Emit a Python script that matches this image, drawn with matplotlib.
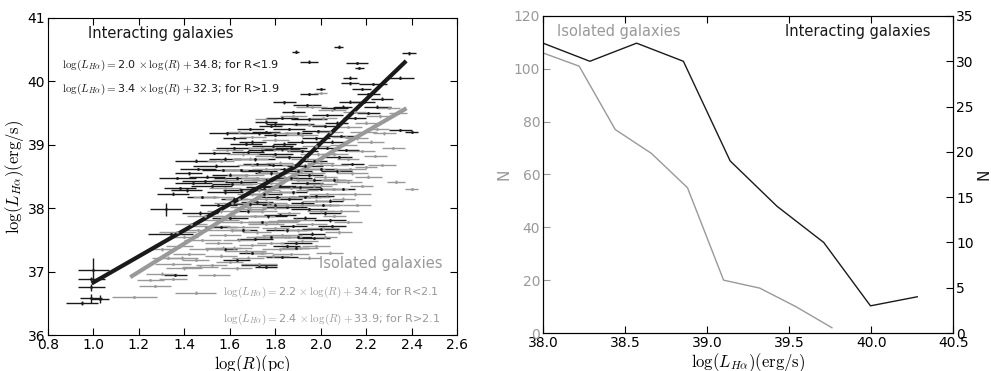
import matplotlib
matplotlib.use("Agg")
import matplotlib.pyplot as plt
import numpy as np

plt.rcParams["mathtext.fontset"] = "cm"
plt.rcParams["font.size"] = 10

GREY = "#999999"
DARK = "#1a1a1a"

# ---- left panel: log(R) vs log(L_Halpha), points as (x, y, xerr, yerr) ----
inter_pts = [
    (1.89, 40.47, .015, .02), (2.08, 40.55, .02, .02), (1.95, 40.31, .04, .02), (2.39, 40.44, .03, .02),
    (2.16, 40.29, .05, .02), (2.17, 40.21, .02, .02), (2.13, 40.06, .03, .02), (2.35, 40.06, .06, .02),
    (2.00, 39.88, .02, .02), (1.95, 39.80, .04, .02), (2.13, 39.97, .04, .02), (2.23, 39.96, .06, .02),
    (2.18, 39.88, .04, .02), (2.21, 39.80, .05, .02), (1.84, 39.67, .05, .02), (2.13, 39.68, .05, .02),
    (2.06, 39.58, .06, .02), (2.03, 39.47, .07, .02), (2.21, 39.50, .05, .02), (1.88, 39.52, .05, .02),
    (2.10, 39.60, .04, .02), (2.27, 39.73, .05, .02),
    (1.76, 39.36, .05, .02), (1.80, 39.33, .04, .02), (1.78, 39.30, .05, .02), (1.73, 39.18, .07, .02),
    (1.76, 39.20, .06, .02), (1.80, 39.16, .05, .02), (1.90, 39.18, .06, .02), (2.09, 39.14, .06, .02),
    (2.35, 39.23, .05, .02), (2.40, 39.20, .03, .02), (1.95, 39.40, .08, .02), (2.02, 39.30, .06, .02),
    (1.86, 39.25, .07, .02), (1.98, 39.10, .06, .02), (1.70, 39.05, .06, .02), (1.84, 39.02, .05, .02),
    (2.15, 39.42, .05, .02), (1.92, 39.05, .07, .02), (1.62, 39.10, .05, .02),
    (1.54, 38.67, .10, .02), (1.50, 38.50, .08, .02), (1.62, 38.95, .08, .02), (1.68, 38.88, .07, .02),
    (1.74, 38.92, .06, .02), (1.80, 38.85, .08, .02), (1.86, 38.80, .06, .02), (1.92, 38.90, .07, .02),
    (1.97, 38.75, .06, .02), (2.03, 38.95, .05, .02), (1.58, 38.78, .07, .02), (1.65, 38.60, .09, .02),
    (1.72, 38.70, .06, .02), (1.78, 38.55, .07, .02), (1.84, 38.62, .05, .02), (1.90, 38.58, .06, .02),
    (2.00, 38.62, .07, .02), (2.08, 38.80, .06, .02), (1.60, 38.53, .08, .02), (1.95, 38.52, .06, .02),
    (1.46, 38.62, .08, .02), (1.42, 38.55, .06, .02), (2.14, 38.70, .05, .02),
    (1.52, 38.35, .09, .02), (1.44, 38.40, .08, .02), (1.38, 38.32, .07, .02), (1.58, 38.25, .08, .02),
    (1.65, 38.42, .07, .02), (1.70, 38.30, .06, .02), (1.76, 38.45, .06, .02), (1.82, 38.35, .07, .02),
    (1.88, 38.25, .06, .02), (1.94, 38.40, .07, .02), (2.00, 38.30, .06, .02), (2.06, 38.45, .05, .02),
    (1.62, 38.15, .06, .02), (1.72, 38.10, .07, .02), (1.80, 38.05, .06, .02), (1.86, 38.15, .06, .02),
    (1.92, 38.08, .05, .02), (1.98, 38.20, .08, .02), (2.04, 38.12, .06, .02), (1.48, 38.18, .07, .02),
    (1.55, 38.05, .08, .02), (2.10, 38.30, .05, .02), (1.35, 38.23, .07, .02),
    (1.32, 37.98, .07, .10), (1.47, 37.92, .08, .03), (1.34, 37.60, .10, .03), (2.04, 37.81, .07, .02),
    (2.00, 37.67, .08, .02), (1.96, 37.60, .06, .02), (1.60, 37.85, .08, .02), (1.68, 37.95, .07, .02),
    (1.74, 37.78, .06, .02), (1.82, 37.90, .07, .02), (1.88, 37.72, .06, .02), (1.93, 37.85, .05, .02),
    (1.66, 37.65, .06, .02), (1.78, 37.55, .07, .02), (1.56, 37.70, .07, .02), (1.90, 37.55, .06, .02),
    (1.89, 37.45, .07, .02), (1.85, 37.40, .06, .02), (1.89, 37.38, .06, .02), (1.83, 37.23, .07, .02),
    (1.73, 37.10, .08, .02), (1.63, 37.18, .06, .02), (1.36, 36.95, .05, .02), (1.76, 37.08, .05, .02),
    (1.70, 37.30, .06, .02), (1.58, 37.35, .05, .02),
    (1.71, 38.77, .09, .02), (1.83, 38.93, .08, .02), (1.67, 39.02, .07, .02), (1.79, 38.98, .09, .02),
    (1.93, 38.67, .08, .02), (1.87, 38.47, .09, .02), (1.75, 38.33, .08, .02), (1.63, 38.47, .10, .02),
    (1.57, 38.60, .09, .02), (1.49, 38.43, .10, .02), (1.81, 38.17, .08, .02), (1.69, 38.06, .09, .02),
    (1.95, 37.98, .08, .02), (2.02, 37.92, .07, .02), (1.91, 38.33, .09, .02), (1.97, 38.45, .08, .02),
    (2.07, 38.58, .07, .02), (2.11, 38.92, .06, .02), (1.99, 39.21, .07, .02), (1.89, 39.33, .08, .02),
    (2.05, 39.05, .07, .02), (1.77, 37.87, .08, .02), (1.85, 37.65, .09, .02), (1.71, 37.52, .08, .02),
    (1.97, 37.53, .07, .02), (2.05, 37.72, .06, .02), (1.65, 38.28, .08, .02), (1.53, 38.87, .07, .02),
    (1.45, 38.75, .09, .02), (1.59, 39.18, .08, .02), (1.69, 39.25, .06, .02), (1.83, 39.43, .07, .02),
    (1.94, 39.63, .06, .02), (2.07, 39.35, .05, .02), (2.25, 39.60, .06, .02), (2.19, 39.68, .05, .02),
    (1.79, 38.68, .09, .02), (1.73, 38.58, .08, .02), (1.87, 38.95, .07, .02), (1.61, 38.38, .09, .02),
    (1.41, 38.28, .07, .02), (1.37, 38.48, .08, .02), (1.93, 38.18, .07, .02), (1.85, 38.02, .09, .02),
    (2.01, 38.05, .07, .02), (1.75, 38.22, .08, .02),
    (1.00, 37.03, .07, .18), (0.99, 36.89, .06, .03), (0.99, 36.75, .06, .06), (0.95, 36.51, .07, .03),
    (1.03, 36.57, .04, .06), (0.99, 36.58, .05, .07),
]

isol_pts = [
    (1.18, 36.60, .10, .02), (1.45, 36.67, .09, .02), (1.27, 36.77, .07, .02), (1.25, 36.87, .06, .02),
    (1.30, 36.97, .07, .02), (1.40, 37.05, .08, .02), (1.35, 37.12, .08, .02), (1.45, 37.18, .06, .02),
    (1.52, 37.10, .07, .02), (1.42, 37.28, .07, .02), (1.50, 37.35, .08, .02), (1.38, 37.40, .06, .02),
    (1.56, 37.25, .07, .02), (1.62, 37.38, .08, .02), (1.60, 37.15, .06, .02), (1.68, 37.22, .07, .02),
    (1.48, 37.50, .08, .02), (1.55, 37.45, .06, .02), (1.58, 37.58, .07, .02), (1.46, 37.65, .07, .02),
    (1.52, 37.72, .08, .02), (1.40, 37.55, .06, .02), (1.30, 37.35, .05, .02), (2.04, 37.30, .06, .02),
    (1.95, 37.22, .05, .02),
    (1.64, 37.50, .07, .02), (1.70, 37.42, .06, .02), (1.74, 37.30, .05, .02), (1.78, 37.45, .06, .02),
    (1.82, 37.35, .08, .02), (1.86, 37.55, .06, .02), (1.92, 37.48, .07, .02), (1.98, 37.40, .06, .02),
    (2.02, 37.55, .05, .02), (2.08, 37.62, .06, .02), (1.66, 37.70, .07, .02), (1.72, 37.62, .06, .02),
    (1.76, 37.75, .08, .02), (1.80, 37.68, .06, .02), (1.84, 37.80, .07, .02), (1.90, 37.65, .06, .02),
    (1.96, 37.75, .07, .02), (2.06, 37.88, .05, .02), (2.12, 37.78, .06, .02), (2.00, 37.95, .06, .02),
    (1.62, 37.88, .07, .02), (1.56, 37.95, .06, .02), (1.68, 38.02, .08, .02), (1.74, 37.95, .07, .02),
    (1.80, 38.00, .06, .02), (1.86, 37.92, .05, .02), (1.92, 38.05, .07, .02), (1.98, 38.12, .06, .02),
    (2.04, 38.05, .06, .02), (2.10, 38.15, .05, .02), (2.16, 38.05, .06, .02), (1.64, 38.15, .06, .02),
    (1.70, 38.22, .07, .02), (1.76, 38.15, .06, .02), (1.82, 38.25, .07, .02), (1.88, 38.18, .06, .02),
    (1.94, 38.28, .05, .02), (2.00, 38.38, .07, .02), (2.06, 38.30, .06, .02), (2.12, 38.42, .06, .02),
    (2.18, 38.35, .05, .02), (2.33, 38.42, .04, .02), (1.58, 38.32, .07, .02), (1.66, 38.38, .06, .02),
    (1.72, 38.48, .07, .02), (1.78, 38.40, .06, .02), (1.84, 38.50, .06, .02), (1.90, 38.45, .07, .02),
    (1.96, 38.55, .06, .02), (2.02, 38.50, .05, .02), (2.08, 38.60, .06, .02), (2.14, 38.55, .07, .02),
    (2.20, 38.65, .05, .02), (1.62, 38.60, .06, .02), (1.70, 38.68, .07, .02), (1.76, 38.62, .06, .02),
    (1.82, 38.72, .06, .02), (1.88, 38.68, .05, .02), (1.94, 38.78, .07, .02), (2.00, 38.72, .06, .02),
    (2.06, 38.85, .06, .02), (2.12, 38.78, .05, .02), (2.18, 38.90, .06, .02), (2.24, 38.82, .05, .02),
    (1.56, 38.75, .06, .02), (1.66, 38.85, .07, .02), (1.74, 38.95, .06, .02), (1.86, 38.92, .07, .02),
    (1.98, 38.98, .06, .02), (2.10, 39.00, .06, .02), (2.16, 39.10, .05, .02), (2.22, 39.05, .06, .02),
    (2.32, 38.95, .05, .02), (2.28, 39.18, .05, .02), (1.80, 39.08, .06, .02), (1.92, 39.15, .07, .02),
    (2.04, 39.20, .06, .02), (1.70, 39.12, .06, .02), (1.64, 39.20, .05, .02), (2.12, 39.28, .06, .02),
    (2.20, 39.35, .05, .02), (2.26, 39.45, .06, .02), (2.34, 39.50, .04, .02), (2.30, 39.58, .05, .02),
    (1.88, 39.45, .06, .02), (1.96, 39.60, .07, .02), (2.05, 39.55, .06, .02), (2.15, 39.52, .05, .02),
    (1.76, 39.40, .05, .02), (2.00, 39.82, .03, .02), (1.58, 38.45, .06, .02), (2.40, 38.30, .03, .02),
    (1.71, 37.88, .09, .02), (1.77, 38.08, .08, .02), (1.83, 37.58, .09, .02), (1.89, 37.82, .08, .02),
    (1.95, 38.18, .09, .02), (2.03, 38.22, .08, .02), (1.61, 37.65, .08, .02), (1.67, 37.32, .09, .02),
    (1.73, 37.12, .08, .02), (1.79, 37.25, .07, .02), (1.87, 37.28, .08, .02), (1.55, 37.82, .09, .02),
    (1.49, 37.88, .08, .02), (1.43, 37.75, .07, .02), (1.37, 37.62, .08, .02), (1.33, 37.22, .07, .02),
    (1.91, 37.38, .08, .02), (2.01, 37.68, .07, .02), (2.09, 37.95, .08, .02), (2.15, 38.22, .07, .02),
    (2.21, 38.50, .06, .02), (2.27, 38.68, .06, .02), (1.73, 38.28, .09, .02), (1.81, 38.55, .09, .02),
    (1.87, 38.32, .08, .02), (1.93, 38.62, .09, .02), (1.99, 38.85, .08, .02), (2.05, 38.68, .07, .02),
    (2.11, 39.12, .06, .02), (1.67, 38.52, .08, .02), (1.61, 38.08, .08, .02), (1.53, 38.18, .09, .02),
    (1.59, 38.92, .07, .02), (1.69, 38.78, .08, .02), (1.79, 38.82, .08, .02), (1.85, 39.18, .07, .02),
    (1.95, 39.32, .07, .02), (2.01, 39.42, .06, .02), (2.19, 39.20, .06, .02), (1.75, 38.45, .09, .02),
    (1.85, 38.05, .09, .02), (1.65, 37.78, .09, .02), (1.57, 37.38, .08, .02), (1.47, 37.08, .08, .02),
    (1.39, 37.22, .07, .02), (2.07, 38.45, .07, .02), (1.97, 38.35, .08, .02), (1.81, 37.78, .09, .02),
    (1.75, 37.55, .08, .02), (1.69, 37.98, .07, .02), (2.13, 38.62, .07, .02), (2.25, 39.25, .05, .02),
    (1.63, 37.05, .07, .02), (1.53, 36.95, .07, .02), (1.35, 36.88, .06, .02),
]

# broken-line fits (nodes)
inter_fit_x = [1.00, 1.90, 2.37]
inter_fit_y = [36.83, 38.68, 40.30]
isol_fit_x = [1.17, 2.10, 2.37]
isol_fit_y = [36.93, 39.00, 39.56]

# ---- right panel: number counts per log(L_Halpha) bin ----
isol_bins = [38.00, 38.22, 38.44, 38.66, 38.88, 39.10, 39.32, 39.54, 39.76]
isol_counts = [106, 101, 77, 68, 55, 20, 17, 10, 2]
inter_bins = [38.00, 38.285, 38.57, 38.855, 39.14, 39.425, 39.71, 39.995, 40.28]
inter_counts = [32, 30, 32, 30, 19, 14, 10, 3, 4]

fig = plt.figure(figsize=(9.91, 3.71), dpi=100)
ax1 = fig.add_axes([0.0484, 0.097, 0.4127, 0.8545])
ax2 = fig.add_axes([0.548, 0.1024, 0.414, 0.8545])


def draw_points(ax, pts, color):
    x, y, xe, ye = np.array(pts).T
    ax.errorbar(x, y, xerr=xe, yerr=ye, fmt=".", ms=2, color=color,
                ecolor=color, elinewidth=1.0, capsize=0)


draw_points(ax1, inter_pts, DARK)
draw_points(ax1, isol_pts, GREY)
ax1.plot(isol_fit_x, isol_fit_y, color=GREY, lw=3)
ax1.plot(inter_fit_x, inter_fit_y, color=DARK, lw=3)

ax1.set_xlim(0.8, 2.6)
ax1.set_ylim(36, 41)
ax1.set_xticks(np.arange(0.8, 2.61, 0.2))
ax1.set_yticks(range(36, 42))
ax1.tick_params(direction="in", top=True, right=True, length=5, pad=2)
ax1.set_xlabel(r"$\log(R)(\mathrm{pc})$", fontsize=12, labelpad=1)
ax1.set_ylabel(r"$\log(L_{H\alpha})(\mathrm{erg/s})$", fontsize=12, labelpad=1)

ax1.text(0.976, 40.76, "Interacting galaxies", fontsize=10.5, color=DARK, va="center")
ax1.text(0.862, 40.25, r"$\log(L_{H\alpha})=$2.0$\,\times\log(R)+$34.8; for R<1.9",
         fontsize=8, color=DARK, va="center")
ax1.text(0.862, 39.87, r"$\log(L_{H\alpha})=$3.4$\,\times\log(R)+$32.3; for R>1.9",
         fontsize=8, color=DARK, va="center")
ax1.text(2.536, 37.13, "Isolated galaxies", fontsize=10.5, color=GREY, va="center", ha="right")
ax1.text(1.571, 36.68, r"$\log(L_{H\alpha})=$2.2$\,\times\log(R)+$34.4; for R<2.1",
         fontsize=8, color=GREY, va="center")
ax1.text(1.571, 36.24, r"$\log(L_{H\alpha})=$2.4$\,\times\log(R)+$33.9; for R>2.1",
         fontsize=8, color=GREY, va="center")

# right panel
ax2.plot(isol_bins, isol_counts, color=GREY, lw=1)
ax2.set_xlim(38.0, 40.5)
ax2.set_ylim(0, 120)
ax2.set_xticks(np.arange(38.0, 40.51, 0.5))
ax2.set_xticklabels([f"{v:.1f}" for v in np.arange(38.0, 40.51, 0.5)])
ax2.set_yticks(range(0, 121, 20))
ax2.tick_params(axis="y", colors=GREY, labelcolor=GREY, direction="in", length=5, pad=2)
ax2.tick_params(axis="x", direction="in", top=True, length=5, pad=2)
for t in ax2.get_yticklines():
    t.set_color(DARK)
ax2.set_ylabel("N", color=GREY, fontsize=11, labelpad=2)
ax2.set_xlabel(r"$\log(L_{H\alpha})(\mathrm{erg/s})$", fontsize=12, labelpad=1)

ax3 = ax2.twinx()
ax3.plot(inter_bins, inter_counts, color=DARK, lw=1)
ax3.set_ylim(0, 35)
ax3.set_yticks(range(0, 36, 5))
ax3.tick_params(direction="in", length=5, pad=2)
ax3.set_ylabel("N", color=DARK, fontsize=11, labelpad=2)

ax2.text(38.085, 114, "Isolated galaxies", fontsize=10.5, color=GREY, va="center")
ax2.text(40.36, 114, "Interacting galaxies", fontsize=10.5, color=DARK, va="center", ha="right")

plt.savefig("out.png", dpi=100)
